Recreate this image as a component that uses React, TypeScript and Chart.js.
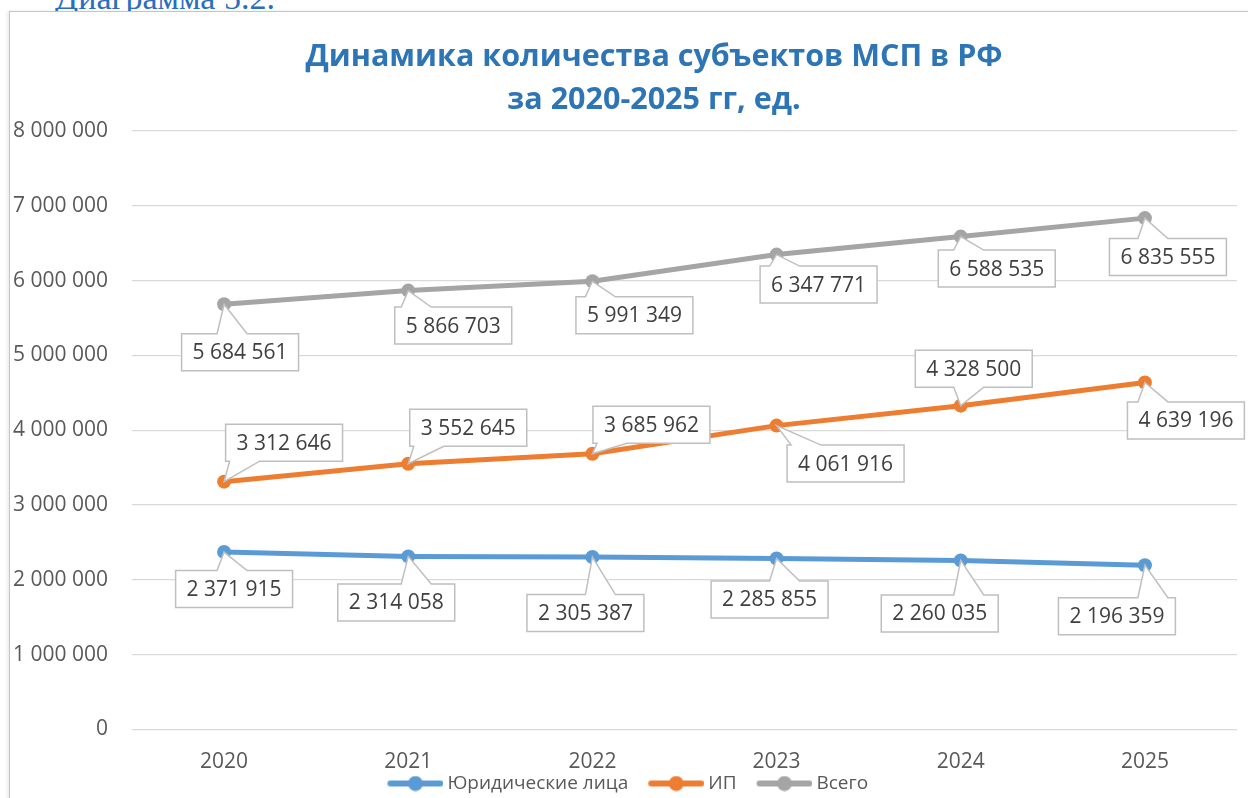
import React, { useEffect, useRef } from "react";
import { Chart, registerables } from "chart.js";

Chart.register(...registerables);

// ---- data ----
const categories = ["2020", "2021", "2022", "2023", "2024", "2025"];
const seriesNames = ["Юридические лица", "ИП", "Всего"];
const legalEntities = [2371915, 2314058, 2305387, 2285855, 2260035, 2196359];
const individualEntrepreneurs = [3312646, 3552645, 3685962, 4061916, 4328500, 4639196];
const totalSubjects = [5684561, 5866703, 5991349, 6347771, 6588535, 6835555];
const yMin = 0;
const yMax = 8000000;
const yStep = 1000000;
const titleLines = ["Динамика количества субъектов МСП в РФ", "за 2020-2025 гг, ед."];
const captionText = "Диаграмма 5.2.";

// ---- styles ----
const seriesColors = ["#5b9bd5", "#ed7d31", "#a5a5a5"];
// callout box centre offsets relative to each point (px)
const calloutOffsets = [
  [[10, 37], [-12, 46], [-7, 56], [-7, 41], [-21, 53], [-28, 51]],
  [[60, -39], [60, -36], [59, -29], [69, 38], [13, -37], [41, 38]],
  [[16, 48], [45, 35], [42, 34], [42, 30], [36, 32], [23, 39]],
];
const FONT = "'Open Sans', 'Noto Sans', sans-serif";
const TEXT_COLOR = "#595959";
const TITLE_CENTER_X = 654;
const ICON_W = 56;
const ICON_IMG_W = 80;

const fmt = (v: number) => String(Math.round(v)).replace(/\B(?=(\d{3})+(?!\d))/g, " ");
const clamp = (v: number, a: number, b: number) => Math.max(a, Math.min(b, v));

const calloutPlugin = {
  id: "callouts",
  afterLayout(chart: any) {
    const tb = chart.titleBlock;
    if (tb) tb.left = 2 * TITLE_CENTER_X - tb.right;
  },
  afterDatasetsDraw(chart: any) {
    const ctx = chart.ctx as CanvasRenderingContext2D;
    ctx.save();
    ctx.font = `21px ${FONT}`;
    ctx.textAlign = "center";
    ctx.textBaseline = "middle";
    chart.data.datasets.forEach((ds: any, di: number) => {
      const meta = chart.getDatasetMeta(di);
      meta.data.forEach((pt: any, i: number) => {
        const px = pt.x;
        const py = pt.y;
        const [dx, dy] = calloutOffsets[di][i];
        const text = fmt(ds.data[i]);
        const w = ctx.measureText(text).width + 22;
        const h = 37;
        const cx = px + dx;
        const cy = py + dy;
        const l = cx - w / 2, r = cx + w / 2, t = cy - h / 2, b = cy + h / 2;
        const half = 15;
        ctx.beginPath();
        if (py > b) {
          const bc = clamp(px + 8, l + half + 4, r - half - 4);
          ctx.moveTo(l, t); ctx.lineTo(r, t); ctx.lineTo(r, b);
          ctx.lineTo(bc + half, b); ctx.lineTo(px, py); ctx.lineTo(bc - half, b);
          ctx.lineTo(l, b); ctx.closePath();
        } else if (py < t) {
          const bc = clamp(px + 8, l + half + 4, r - half - 4);
          ctx.moveTo(l, t); ctx.lineTo(bc - half, t); ctx.lineTo(px, py);
          ctx.lineTo(bc + half, t); ctx.lineTo(r, t); ctx.lineTo(r, b);
          ctx.lineTo(l, b); ctx.closePath();
        } else if (px < l) {
          const bc = clamp(py, t + 8, b - 8);
          ctx.moveTo(l, t); ctx.lineTo(r, t); ctx.lineTo(r, b); ctx.lineTo(l, b);
          ctx.lineTo(l, bc + 7); ctx.lineTo(px, py); ctx.lineTo(l, bc - 7); ctx.closePath();
        } else {
          const bc = clamp(py, t + 8, b - 8);
          ctx.moveTo(l, t); ctx.lineTo(r, t); ctx.lineTo(r, bc - 7); ctx.lineTo(px, py);
          ctx.lineTo(r, bc + 7); ctx.lineTo(r, b); ctx.lineTo(l, b); ctx.closePath();
        }
        ctx.fillStyle = "#ffffff";
        ctx.fill();
        ctx.lineWidth = 1.5;
        ctx.strokeStyle = "#bfbfbf";
        ctx.stroke();
        ctx.fillStyle = "#404040";
        ctx.fillText(text, cx, cy + 1);
      });
    });
    ctx.restore();
  },
};

// legend marker: transparent lead-in on the left, line with a dot on the right
function makeLegendIcon(color: string) {
  const c = document.createElement("canvas");
  c.width = ICON_IMG_W;
  c.height = 16;
  const g = c.getContext("2d")!;
  const x0 = ICON_IMG_W - ICON_W;
  g.strokeStyle = color;
  g.lineWidth = 6;
  g.lineCap = "round";
  g.beginPath();
  g.moveTo(x0 + 3, 8);
  g.lineTo(x0 + ICON_W - 3, 8);
  g.stroke();
  g.fillStyle = color;
  g.beginPath();
  g.arc(x0 + ICON_W / 2, 8, 7.5, 0, Math.PI * 2);
  g.fill();
  return c;
}

export default function App() {
  const ref = useRef<HTMLCanvasElement | null>(null);

  useEffect(() => {
    if (!ref.current) return;
    const icons = seriesColors.map(makeLegendIcon);
    const seriesData = [legalEntities, individualEntrepreneurs, totalSubjects];
    const chart = new Chart(ref.current, {
      type: "line",
      data: {
        labels: categories,
        datasets: seriesNames.map((name, i) => ({
          label: name,
          data: seriesData[i],
          borderColor: seriesColors[i],
          backgroundColor: seriesColors[i],
          borderWidth: 5,
          pointRadius: 7,
          pointHoverRadius: 7,
          pointBorderWidth: 0,
          pointBackgroundColor: seriesColors[i],
          tension: 0,
          fill: false,
        })),
      },
      options: {
        responsive: false,
        animation: false,
        devicePixelRatio: 1,
        layout: { padding: { left: 0, right: 11, top: 0, bottom: 0 } },
        plugins: {
          tooltip: { enabled: false },
          title: {
            display: true,
            text: titleLines,
            color: "#2e75b6",
            font: { family: FONT, size: 30.5, weight: "bold", lineHeight: 43.5 / 30.5 },
            padding: { top: 35.25, bottom: 8.75 },
          },
          legend: {
            display: true,
            position: "bottom",
            labels: {
              usePointStyle: true,
              pointStyleWidth: 69,
              padding: 1.5,
              color: TEXT_COLOR,
              font: { family: FONT, size: 19 },
              generateLabels: (c: any) => {
                const items = (Chart.defaults.plugins.legend.labels as any).generateLabels(c);
                return items.map((it: any, i: number) => ({ ...it, pointStyle: icons[i], lineWidth: 0 }));
              },
            },
          },
        },
        scales: {
          x: {
            type: "category",
            offset: true,
            grid: { display: false, drawTicks: false },
            border: { display: false },
            ticks: { color: TEXT_COLOR, font: { family: FONT, size: 21 }, padding: 19.6 },
            afterFit: (s: any) => { s.height = 43; },
          },
          y: {
            min: yMin,
            max: yMax,
            grid: { color: "#d9d9d9", lineWidth: 1.3, drawTicks: false },
            border: { display: false },
            ticks: {
              stepSize: yStep,
              color: TEXT_COLOR,
              font: { family: FONT, size: 21 },
              padding: 24,
              callback: (v: any) => fmt(Number(v)),
            },
            afterFit: (s: any) => { s.width = 132; },
          },
        },
      },
      plugins: [calloutPlugin],
    } as any);
    return () => chart.destroy();
  }, []);

  return (
    <div style={{ position: "absolute", left: 0, top: 0, width: 1248, height: 798, overflow: "hidden", background: "#ffffff" }}>
      <div
        style={{
          position: "absolute",
          left: 55,
          top: -19.5,
          fontFamily: "'Liberation Serif', 'DejaVu Serif', serif",
          fontSize: 34,
          lineHeight: "34px",
          color: "#2a6ebd",
          whiteSpace: "nowrap",
        }}
      >
        {captionText}
      </div>
      <div
        style={{
          position: "absolute",
          left: 9,
          top: 11,
          width: 1260,
          height: 820,
          border: "1.5px solid #b4c7e7",
          boxShadow: "-2px 0 3px rgba(0,0,0,0.08)",
          background: "#ffffff",
        }}
      />
      <canvas ref={ref} width={1248} height={803} style={{ position: "absolute", left: 0, top: 0, width: 1248, height: 803 }} />
    </div>
  );
}
